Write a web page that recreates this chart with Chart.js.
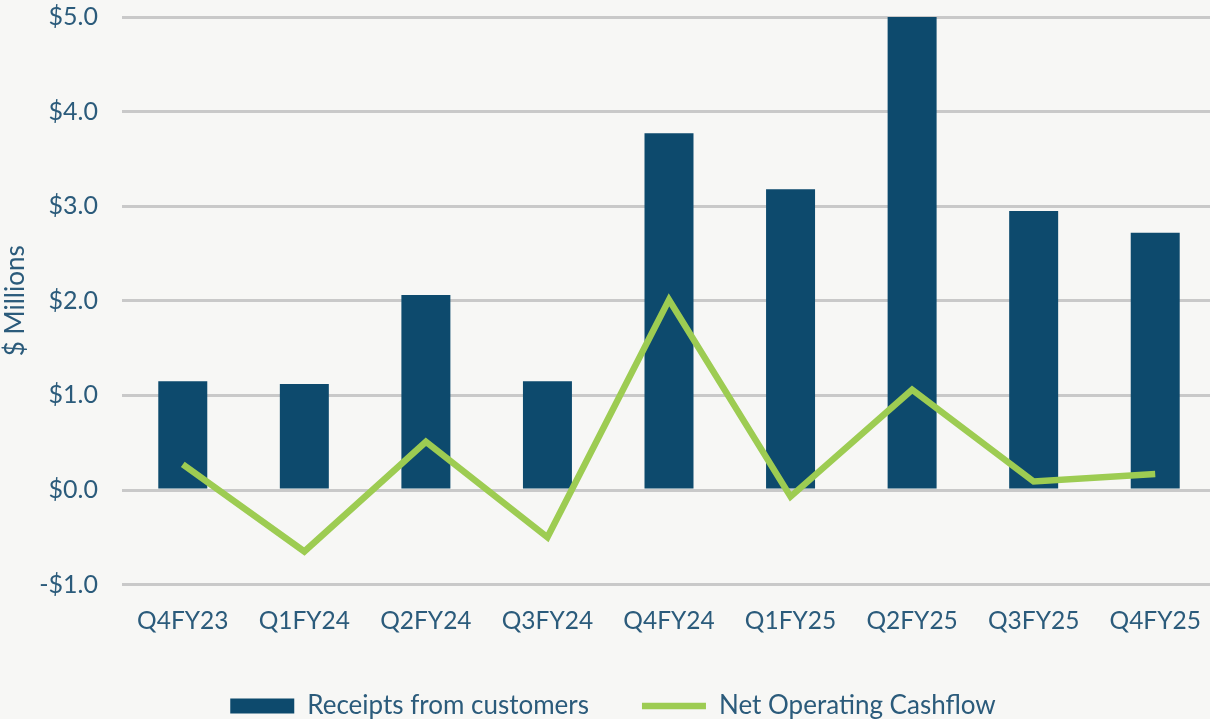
<!DOCTYPE html>
<html>
<head>
<meta charset="utf-8">
<script src="https://cdn.jsdelivr.net/npm/chart.js@4.4.1/dist/chart.umd.min.js"></script>
<style>
  html, body { margin: 0; padding: 0; overflow: hidden; background: #f7f7f5; }
  #wrap { width: 1210px; height: 719px; overflow: hidden; position: relative; }
  canvas { display: block; }
</style>
</head>
<body>
<div id="wrap"><canvas id="c" width="1230" height="740"></canvas></div>
<script>
const categories = ['Q4FY23', 'Q1FY24', 'Q2FY24', 'Q3FY24', 'Q4FY24', 'Q1FY25', 'Q2FY25', 'Q3FY25', 'Q4FY25'];
const receipts = [1.15, 1.12, 2.06, 1.15, 3.77, 3.18, 5.02, 2.95, 2.72];
const netOperatingCashflow = [0.27, -0.65, 0.51, -0.50, 2.01, -0.07, 1.06, 0.09, 0.17];
const seriesNames = ['Receipts from customers', 'Net Operating Cashflow'];
const yAxisTitle = '$ Millions';

const textColor = '#2b5b7b';
const fontFamily = 'Lato, "Noto Sans", sans-serif';

new Chart(document.getElementById('c'), {
  data: {
    labels: categories,
    datasets: [
      {
        type: 'line',
        label: seriesNames[1],
        data: netOperatingCashflow,
        borderColor: '#9dcc52',
        backgroundColor: '#9dcc52',
        borderWidth: 6.5,
        pointRadius: 0,
        pointHoverRadius: 0,
        tension: 0,
        order: 0,
        pointStyle: 'line',
        borderJoinStyle: 'miter',
        clip: false
      },
      {
        type: 'bar',
        label: seriesNames[0],
        data: receipts,
        backgroundColor: '#0d4a6d',
        borderWidth: 0,
        categoryPercentage: 1,
        barPercentage: 0.403,
        order: 1,
        pointStyle: 'rect'
      }
    ]
  },
  options: {
    responsive: false,
    animation: false,
    events: [],
    layout: { padding: { left: 10, right: 14, top: 17, bottom: 11 } },
    plugins: {
      tooltip: { enabled: false },
      legend: {
        position: 'bottom',
        reverse: true,
        labels: {
          usePointStyle: true,
          pointStyleWidth: 64,
          boxHeight: 15,
          padding: 53,
          color: textColor,
          font: { family: fontFamily, size: 26 }
        }
      }
    },
    scales: {
      x: {
        grid: { display: false },
        border: { display: false },
        afterFit: (s) => { s.height -= 10; },
        ticks: {
          color: textColor,
          font: { family: fontFamily, size: 24.5 },
          maxRotation: 0,
          autoSkip: false,
          padding: 14
        }
      },
      y: {
        min: -1,
        max: 5,
        grid: { color: '#c9c9c9', lineWidth: 3, drawTicks: false },
        border: { display: false },
        afterFit: (s) => { s.width = 112; s.paddingTop = 0; s.paddingBottom = 0; },
        ticks: {
          stepSize: 1,
          color: textColor,
          font: { family: fontFamily, size: 25 },
          padding: 24,
          callback: (v) => (v < 0 ? '-$' : '$') + Math.abs(v).toFixed(1)
        },
        title: {
          display: true,
          text: yAxisTitle,
          color: textColor,
          font: { family: fontFamily, size: 26, lineHeight: 1.2 },
          padding: { top: -10, bottom: 0 }
        }
      }
    }
  }
});
</script>
</body>
</html>
